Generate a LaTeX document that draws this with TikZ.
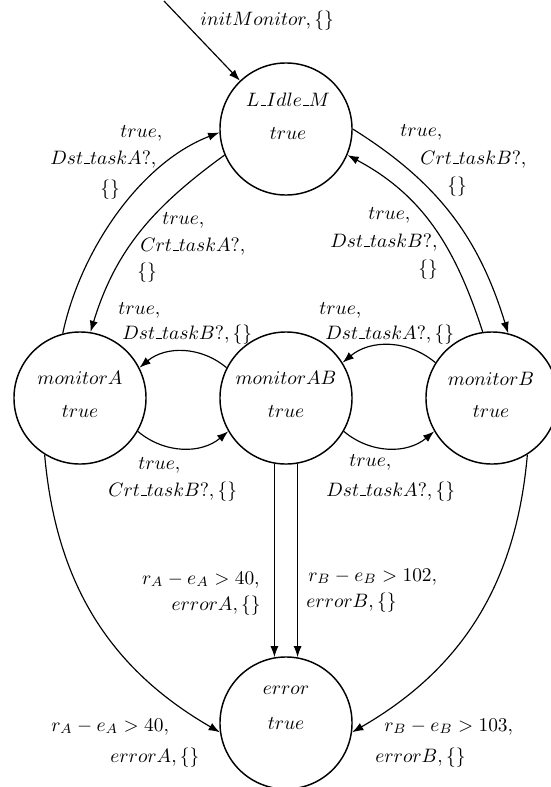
\documentclass[tikz,border=0pt]{standalone}
\usetikzlibrary{arrows.meta}
\newcommand{\uscore}{\kern.06em\vbox{\hrule width.3em}}
\begin{document}
\begin{tikzpicture}[x=0.515pt,y=-0.515pt,
  statenode/.style={circle,draw,line width=0.75pt,minimum size=68pt,inner sep=0pt},
  stxt/.style={anchor=base,inner sep=0pt},
  lbl/.style={anchor=base west,inner sep=0pt},
  lblr/.style={anchor=base east,inner sep=0pt},
  edge/.style={line width=0.6pt,-{Latex[length=5.8pt,width=4.2pt]}}]
\useasboundingbox (0,0) rectangle (551,787);
% states
\node[statenode] (idle) at (286,129) {};
\node[statenode] (monA) at (80,398) {};
\node[statenode] (monAB) at (286,398) {};
\node[statenode] (monB) at (492,398) {};
\node[statenode] (err) at (286,723) {};
% state texts
\node[stxt] (idleN) at (288,106) {$L\uscore Idle\uscore M$};
\node[stxt] (idleI) at (288,139) {$true$};
\node[stxt] (monAN) at (80,384) {$monitorA$};
\node[stxt] (monAI) at (80,417) {$true$};
\node[stxt] (monABN) at (286,384) {$monitorAB$};
\node[stxt] (monABI) at (286,417) {$true$};
\node[stxt] (monBN) at (491,385) {$monitorB$};
\node[stxt] (monBI) at (491,417) {$true$};
\node[stxt] (errN) at (286,694) {$error$};
\node[stxt] (errI) at (286,729) {$true$};
% initial
\coordinate (s0) at (164,1);
\draw[edge] (s0) -- (idle);
\node[lbl] (l0) at (200,25) {$initMonitor, \{\}$};
% idle <-> monitorA
\draw[edge] (monA.105) to[out=78,in=201,looseness=0.85] (idle.183);
\draw[edge] (idle.203) to[out=216,in=73] (monA.81);
% idle <-> monitorB
\draw[edge] (idle.0) to[out=-32,in=107] (monB.76);
\draw[edge] (monB.98) to[out=108,in=332] (idle.-23);
% middle arcs
\draw[edge] (monAB.153) to[bend right=40] (monA.27);
\draw[edge] (monA.-30) to[bend right=40] (monAB.210);
\draw[edge] (monB.148) to[bend right=40] (monAB.32);
\draw[edge] (monAB.-30) to[bend right=40] (monB.210);
% to error
\draw[edge] (monAB.260) -- (err.100);
\draw[edge] (monAB.280) -- (err.80);
\draw[edge] (monA.238) to[out=-85,in=150] (err.188);
\draw[edge] (monB.302) to[out=-95,in=30] (err.-8);
% labels: idle -> monitorA side
\node[lbl] (l1a) at (120,137) {$true,$};
\node[lbl] (l1b) at (50,164) {$Dst\uscore taskA?,$};
\node[lbl] (l1c) at (100,194) {$\{\}$};
\node[lbl] (l2a) at (162,224) {$true,$};
\node[lbl] (l2b) at (140,251) {$Crt\uscore taskA?,$};
\node[lbl] (l2c) at (137,277) {$\{\}$};
% idle -> monitorB side
\node[lbl] (l3a) at (400,136) {$true,$};
\node[lbl] (l3b) at (420,164) {$Crt\uscore taskB?,$};
\node[lbl] (l3c) at (447,191) {$\{\}$};
\node[lbl] (l4a) at (368,219) {$true,$};
\node[lbl] (l4b) at (330,247) {$Dst\uscore taskB?,$};
\node[lbl] (l4c) at (418,274) {$\{\}$};
% middle arcs labels
\node[lbl] (l5a) at (118,314) {$true,$};
\node[lbl] (l5b) at (122,339) {$Dst\uscore taskB?, \{\}$};
\node[lbl] (l6a) at (319,314) {$true,$};
\node[lbl] (l6b) at (325,339) {$Dst\uscore taskA?, \{\}$};
\node[lbl] (l7a) at (138,469) {$true,$};
\node[lbl] (l7b) at (108,496) {$Crt\uscore taskB?, \{\}$};
\node[lbl] (l8a) at (349,466) {$true,$};
\node[lbl] (l8b) at (326,496) {$Dst\uscore taskA?, \{\}$};
% error labels
\node[lblr] (l9a) at (260,584) {$r_A - e_A > 40,$};
\node[lblr] (l9b) at (261,610) {$errorA, \{\}$};
\node[lbl] (l10a) at (308,581) {$r_B - e_B > 102,$};
\node[lbl] (l10b) at (306,607) {$errorB, \{\}$};
\node[lbl] (l11a) at (51,731) {$r_A - e_A > 40,$};
\node[lbl] (l11b) at (110,762) {$errorA, \{\}$};
\node[lbl] (l12a) at (384,731) {$r_B - e_B > 103,$};
\node[lbl] (l12b) at (375,762) {$errorB, \{\}$};
\end{tikzpicture}
\end{document}
